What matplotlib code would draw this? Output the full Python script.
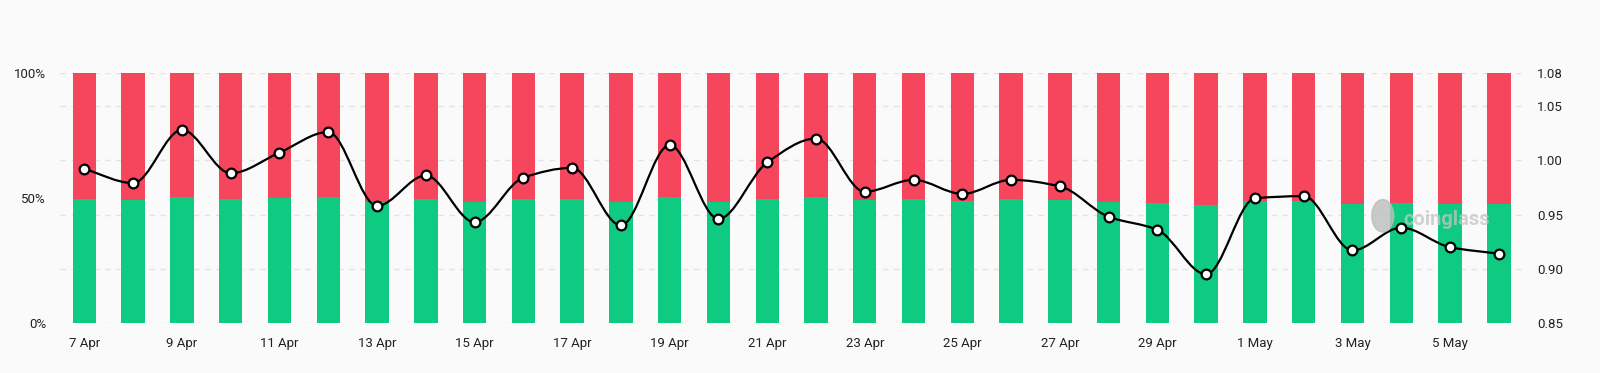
import numpy as np
import matplotlib.pyplot as plt
from matplotlib.path import Path
from matplotlib.patches import PathPatch, Ellipse

plt.rcParams['font.family'] = ['Roboto', 'DejaVu Sans']

dates = ['7 Apr', '8 Apr', '9 Apr', '10 Apr', '11 Apr', '12 Apr', '13 Apr', '14 Apr',
         '15 Apr', '16 Apr', '17 Apr', '18 Apr', '19 Apr', '20 Apr', '21 Apr', '22 Apr',
         '23 Apr', '24 Apr', '25 Apr', '26 Apr', '27 Apr', '28 Apr', '29 Apr', '30 Apr',
         '1 May', '2 May', '3 May', '4 May', '5 May', '6 May']
long_pct = [49.7, 49.3, 50.7, 49.7, 50.1, 50.7, 48.7, 49.6, 48.5, 49.6,
            49.6, 48.4, 50.4, 48.5, 49.9, 50.4, 49.2, 49.6, 49.1, 49.6,
            49.3, 48.5, 48.3, 47.2, 48.9, 48.9, 47.7, 48.3, 47.9, 47.6]
ls_ratio = [0.992, 0.979, 1.028, 0.988, 1.007, 1.026, 0.958, 0.986, 0.943, 0.984,
            0.993, 0.940, 1.014, 0.946, 0.998, 1.020, 0.971, 0.982, 0.969, 0.982,
            0.976, 0.948, 0.936, 0.895, 0.965, 0.967, 0.917, 0.938, 0.920, 0.914]
right_ticks = [0.85, 0.90, 0.95, 1.00, 1.05, 1.08]

GREEN = '#0ecb81'
RED = '#f6465d'
BG = '#fafafa'

x = np.arange(len(dates))
long_pct = np.array(long_pct)
short_pct = 100 - long_pct
y = np.array(ls_ratio)

fig = plt.figure(figsize=(16, 3.73), dpi=100, facecolor=BG)
ax = fig.add_axes([0.0375, 0.1333, 0.9145, 0.6702])
ax.set_facecolor(BG)

# dashed grid at the ratio ticks, drawn behind the bars
for t in right_ticks:
    ax.axhline((t - 0.85) / 0.23 * 100, color='#e3e3e3', lw=1, ls=(0, (4, 4)), zorder=0)

ax.bar(x, long_pct, width=0.48, color=GREEN, zorder=2)
ax.bar(x, short_pct, width=0.48, bottom=long_pct, color=RED, zorder=2)
ax.set_xlim(-0.5, len(dates) - 0.5)
ax.set_ylim(0, 100)
ax.set_yticks([0, 50, 100])
ax.set_yticklabels(['0%', '50%', '100%'])
ax.set_xticks(x[::2])
ax.set_xticklabels(dates[::2])
ax.tick_params(length=0, labelsize=9.5, colors='#222222', pad=10)
for s in ax.spines.values():
    s.set_visible(False)

ax2 = ax.twinx()
ax2.set_ylim(0.85, 1.08)
ax2.set_yticks(right_ticks)
ax2.set_yticklabels(['%.2f' % t for t in right_ticks])
ax2.tick_params(length=0, labelsize=9.5, colors='#222222', pad=10)
for s in ax2.spines.values():
    s.set_visible(False)

# monotone cubic (Fritsch-Carlson) tangents for the smooth line
h = np.diff(x).astype(float)
d = np.diff(y) / h
m = np.zeros_like(y)
m[0], m[-1] = d[0], d[-1]
for i in range(1, len(y) - 1):
    if d[i - 1] * d[i] > 0:
        m[i] = 2 / (1 / d[i - 1] + 1 / d[i])
verts = [(x[0], y[0])]
codes = [Path.MOVETO]
for i in range(len(y) - 1):
    verts += [(x[i] + h[i] / 3, y[i] + m[i] * h[i] / 3),
              (x[i + 1] - h[i] / 3, y[i + 1] - m[i + 1] * h[i] / 3),
              (x[i + 1], y[i + 1])]
    codes += [Path.CURVE4] * 3
ax2.add_patch(PathPatch(Path(verts, codes), fill=False, ec='black', lw=1.6, zorder=3))
ax2.plot(x, y, 'o', ms=7, mfc='white', mec='black', mew=1.6, zorder=4)

# watermark
ax2.add_patch(Ellipse((0.904, 0.43), 0.015, 0.13, transform=ax2.transAxes,
                      color='#bdbdbd', alpha=0.8, zorder=5))
ax2.text(0.977, 0.415, 'coinglass', transform=ax2.transAxes, ha='right', va='center',
         fontsize=14.5, fontweight='bold', color='#c4c4c4', alpha=0.75, zorder=5)

fig.savefig('out.png', dpi=100, facecolor=BG)
